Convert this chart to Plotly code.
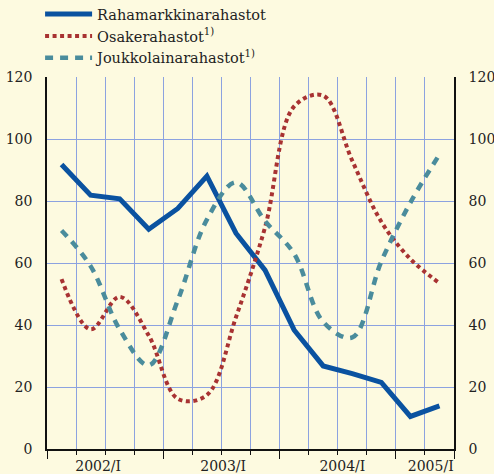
import plotly.graph_objects as go

# ---- data (quarters 2002/I .. 2005/II) ----
quarters = ["2002Q1", "2002Q2", "2002Q3", "2002Q4",
            "2003Q1", "2003Q2", "2003Q3", "2003Q4",
            "2004Q1", "2004Q2", "2004Q3", "2004Q4",
            "2005Q1", "2005Q2"]
rahamarkkina = [91.8, 81.9, 80.7, 70.9, 77.6, 88.0, 69.6, 57.7, 38.4, 26.8, 24.3, 21.5, 10.5, 13.9]
osake = [54.8, 38.6, 49.1, 36.6, 16.2, 17.4, 42.5, 71.5, 110.5, 114.0, 93.0, 73.3, 61.3, 53.5]
joukkolaina = [70.5, 59.0, 38.6, 27.0, 48.0, 74.0, 86.0, 73.5, 63.0, 41.0, 36.0, 60.5, 79.5, 95.0]
year_labels = ["2002/I", "2003/I", "2004/I", "2005/I"]
y_ticks = [0, 20, 40, 60, 80, 100, 120]
series_names = ["Rahamarkkinarahastot", "Osakerahastot<sup>1)</sup>", "Joukkolainarahastot<sup>1)</sup>"]

x = list(range(len(quarters)))
n = len(quarters)

# positions (axis layout)
boundaries = [i - 0.5 for i in range(n + 1)]
year_bounds = [-0.5, 3.5, 7.5, 11.5, 13.5]
label_pos = [1.26, 5.56, 9.66, 12.70]

BG = "#fdfae0"
GRID = "#8ca2e0"
FONT = "DejaVu Serif"

fig = go.Figure()
fig.add_trace(go.Scatter(x=x, y=rahamarkkina, name=series_names[0], mode="lines",
                         line=dict(color="#0a52a0", width=5)))
fig.add_trace(go.Scatter(x=x, y=osake, name=series_names[1], mode="lines",
                         line=dict(color="#a83232", width=4, dash="4px,3.5px", shape="spline")))
fig.add_trace(go.Scatter(x=x, y=joukkolaina, name=series_names[2], mode="lines",
                         line=dict(color="#4a8c9c", width=4.5, dash="8px,7px", shape="spline")))
# helper trace so the secondary axes render
fig.add_trace(go.Scatter(x=[0], y=[0], xaxis="x2", yaxis="y2", mode="markers",
                         marker=dict(opacity=0), showlegend=False, hoverinfo="skip"))

fig.update_layout(
    width=494, height=474,
    margin=dict(l=47, r=40, t=77, b=25, autoexpand=False),
    paper_bgcolor=BG, plot_bgcolor=BG,
    font=dict(family=FONT, size=14, color="#222222"),
    showlegend=True,
    legend=dict(x=-0.017, y=1.212, xanchor="left", yanchor="top",
                bgcolor="rgba(0,0,0,0)", font=dict(size=14.5, family=FONT),
                itemwidth=47, tracegroupgap=0),
    xaxis=dict(range=[-0.5, 13.5], tickmode="array", tickvals=year_bounds,
               showticklabels=False, ticks="outside", ticklen=8, tickwidth=1.3,
               tickcolor="#111111", showgrid=True, gridcolor=GRID, gridwidth=1.3,
               showline=True, linecolor="#111111", linewidth=1.6, zeroline=False,
               minor=dict(tickmode="array", tickvals=boundaries, ticks="outside",
                          ticklen=4, tickwidth=1.3, tickcolor="#111111",
                          showgrid=True, gridcolor=GRID, gridwidth=1.3)),
    xaxis2=dict(range=[-0.5, 13.5], overlaying="x", anchor="y", side="bottom",
                tickmode="array", tickvals=label_pos, ticktext=year_labels,
                ticks="", showgrid=False, showline=False, zeroline=False,
                ticklabelstandoff=7, tickfont=dict(size=14, family=FONT)),
    yaxis=dict(range=[0, 120], tickmode="array", tickvals=y_ticks,
               showgrid=True, gridcolor=GRID, gridwidth=1.3, zeroline=False,
               showline=True, linecolor="#111111", linewidth=1.6, ticks="",
               ticklabelstandoff=10),
    yaxis2=dict(range=[0, 120], overlaying="y", side="right", anchor="x",
                tickmode="array", tickvals=y_ticks,
                showgrid=False, zeroline=False, showline=True, linecolor="#111111",
                linewidth=1.6, ticks="", ticklabelstandoff=10),
)

fig.write_html(
    "out.html",
    config={"displayModeBar": False},
    post_script="document.body.style.margin='0';document.body.style.background='" + BG + "';",
)
